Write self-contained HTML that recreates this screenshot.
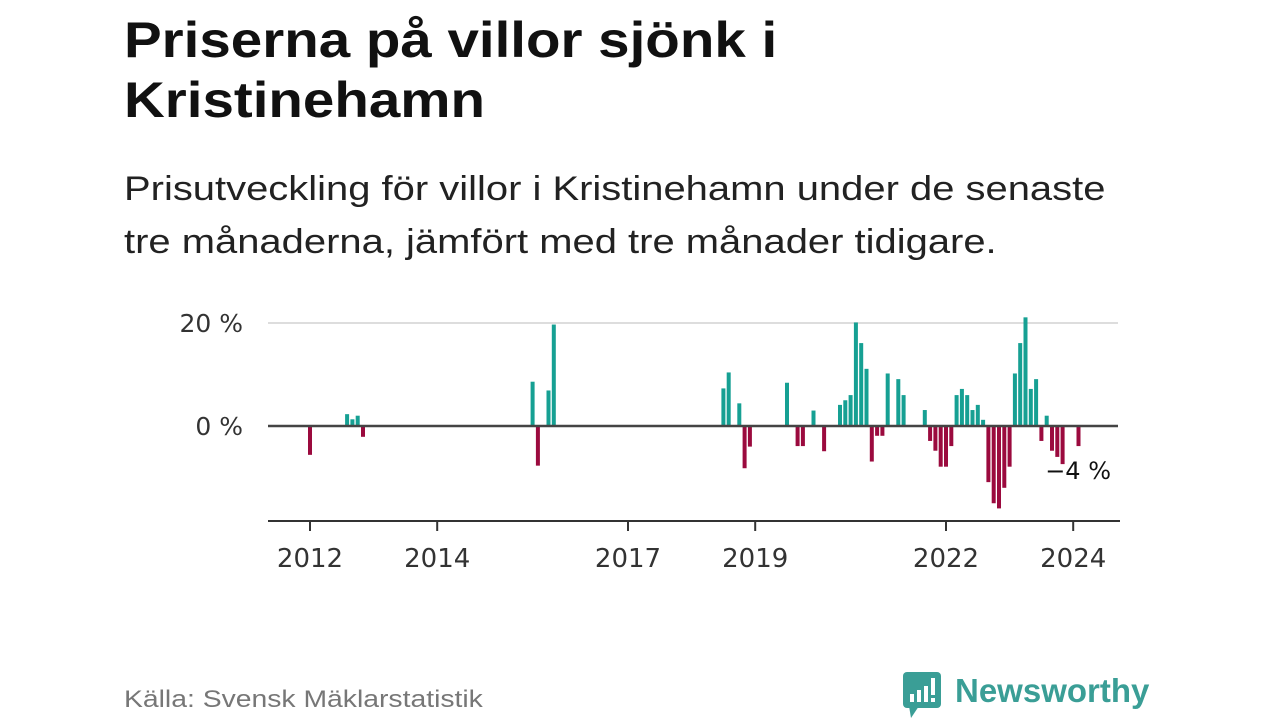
<!DOCTYPE html>
<html><head><meta charset="utf-8"><style>
body{margin:0;width:1280px;height:720px;background:#fff;overflow:hidden;font-family:"Liberation Sans",sans-serif;position:relative}
.t{position:absolute;left:124px;margin:0;transform-origin:0 0;white-space:nowrap}
</style></head><body>
<h1 class="t" style="top:10px;font-size:50px;line-height:60px;font-weight:bold;color:#111;transform:scaleX(1.13)">Priserna på villor sjönk i<br>Kristinehamn</h1>
<p class="t" style="top:163px;font-size:34px;line-height:53px;color:#222;transform:scaleX(1.175)">Prisutveckling för villor i Kristinehamn under de senaste<br>tre månaderna, jämfört med tre månader tidigare.</p>
<svg id="c" width="1280" height="720" style="position:absolute;left:0;top:0"></svg>
<div class="t" style="top:686px;font-size:24px;color:#777;transform:scaleX(1.18)">Källa: Svensk Mäklarstatistik</div>
<div style="position:absolute;left:903px;top:672px;width:260px;height:48px">
<svg width="40" height="48" style="position:absolute;left:0;top:0"><rect x="0" y="0" width="38" height="36" rx="4" fill="#3a9e96"/><polygon points="6,34 16,34 8,46" fill="#3a9e96"/><rect x="7" y="22" width="4" height="8" fill="#fff"/><rect x="14" y="18" width="4" height="12" fill="#fff"/><rect x="21" y="14" width="4" height="16" fill="#fff"/><rect x="28" y="6" width="4" height="17" fill="#fff"/><rect x="28" y="26" width="4" height="4" fill="#fff"/></svg>
<span style="position:absolute;left:52px;top:0;font-size:33px;font-weight:bold;color:#3a9e96">Newsworthy</span></div>
<script>
const months=[0,7,8,9,10,42,43,45,46,78,79,81,82,83,90,92,93,95,97,100,101,102,103,104,105,106,107,108,109,111,112,116,117,118,119,120,121,122,123,124,125,126,127,128,129,130,131,132,133,134,135,136,137,138,139,140,141,142,145];
const values=[-5.6,2.3,1.3,2.0,-2.1,8.6,-7.7,6.9,19.7,7.3,10.4,4.4,-8.2,-4.0,8.4,-3.9,-3.9,3.0,-4.9,4.1,5.0,6.0,20.1,16.1,11.1,-6.9,-1.9,-1.9,10.2,9.1,6.0,3.1,-2.9,-4.8,-7.9,-7.9,-3.9,6.0,7.2,6.0,3.1,4.1,1.2,-10.9,-15.0,-16.0,-12.0,-7.9,10.2,16.1,21.1,7.2,9.1,-2.9,2.0,-4.8,-6.0,-7.4,-3.9];
const yTicks=[0,20];
const yearTicks=[2012,2014,2017,2019,2022,2024];
const NS='http://www.w3.org/2000/svg';
const svg=document.getElementById('c');
const FF='DejaVu Sans, sans-serif';
const x=m=>310+m*5.3;
const y=v=>426-v*5.15;
function mk(t,a){const e=document.createElementNS(NS,t);for(const k in a)e.setAttribute(k,a[k]);svg.appendChild(e);return e;}
yTicks.forEach(v=>{
 if(v!==0){const g=mk('line',{x1:268,x2:1118,y1:y(v),y2:y(v),stroke:'#ddd','stroke-width':2});
 
 }
 const t=mk('text',{x:243,y:y(v)+9,'text-anchor':'end','font-size':25,fill:'#333','font-family':FF});
 t.textContent=v+' %';
 
 
});
months.forEach((m,i)=>{
 const v=values[i];
 const r=mk('rect',{x:x(m)-2,width:4,y:Math.min(y(v),y(0)),height:Math.abs(y(v)-y(0)),fill:v>=0?'#16a093':'#9b0a3e'});
 
 
});
const z=mk('line',{x1:268,x2:1118,y1:y(0),y2:y(0),stroke:'#444','stroke-width':2.5});


const ax=mk('line',{x1:268,x2:1120,y1:521,y2:521,stroke:'#333','stroke-width':2});


yearTicks.forEach(yr=>{
 const xx=x((yr-2012)*12);
 const tk=mk('line',{x1:xx,x2:xx,y1:521,y2:531,stroke:'#333','stroke-width':2});
 
 
 const t=mk('text',{x:xx,y:567,'text-anchor':'middle','font-size':26,fill:'#333','font-family':FF});
 t.textContent=yr;
 
 
});
const lbl=mk('text',{x:1111,y:479,'text-anchor':'end','font-size':24,fill:'#111','font-family':FF});
lbl.textContent='−'+Math.round(Math.abs(values[values.length-1]))+' %';


</script>
</body></html>
